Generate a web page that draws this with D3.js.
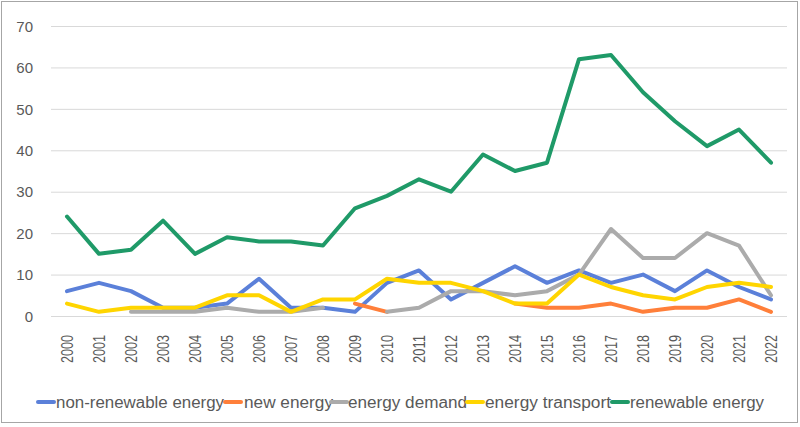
<!DOCTYPE html>
<html>
<head>
<meta charset="utf-8">
<script src="https://cdn.jsdelivr.net/npm/d3@7"></script>
<style>
  html, body { margin: 0; padding: 0; background: #fff; }
  svg { display: block; font-family: "Liberation Sans", Arial, sans-serif; }
</style>
</head>
<body>
<svg id="chart" width="800" height="427"></svg>
<script>
const years = ["2000","2001","2002","2003","2004","2005","2006","2007","2008","2009","2010","2011",
               "2012","2013","2014","2015","2016","2017","2018","2019","2020","2021","2022"];
const nonRenewable = [6,8,6,2,2,3,9,2,2,1,8,11,4,8,12,8,11,8,10,6,11,7,4];
const newEnergy    = [null,null,null,null,null,null,null,null,null,3,1,null,null,null,3,2,2,3,1,2,2,4,1];
const energyDemand = [null,null,1,1,1,2,1,1,2,null,1,2,6,6,5,6,10,21,14,14,20,17,5];
const energyTransport = [3,1,2,2,2,5,5,1,4,4,9,8,8,6,3,3,10,7,5,4,7,8,7];
const renewable    = [24,15,16,23,15,19,18,18,17,26,29,33,30,39,35,37,62,63,54,47,41,45,37];
const yTicks = [0,10,20,30,40,50,60,70];

const seriesNames = ["non-renewable energy","new energy","energy demand","energy transport","renewable energy"];
const seriesValues = [nonRenewable, newEnergy, energyDemand, energyTransport, renewable];
const seriesColors = ["#5b80d9","#ff7f3a","#ababab","#ffd500","#1f9a68"];

const svg = d3.select("#chart");

// outer frame
svg.append("rect").attr("x",1.5).attr("y",1.5).attr("width",796).attr("height",421)
  .attr("fill","#fff").attr("stroke","#a6a6a6").attr("stroke-width",1);

const plotLeft = 51, plotRight = 787, plotTop = 26, plotBottom = 316;

const x = d3.scaleBand().domain(years).range([plotLeft, plotRight]);
const y = d3.scaleLinear().domain([0,70]).range([plotBottom, plotTop]);

// gridlines
svg.append("g").selectAll("line").data(yTicks).join("line")
  .attr("x1", plotLeft).attr("x2", plotRight)
  .attr("y1", d => y(d) + 0.5).attr("y2", d => y(d) + 0.5)
  .attr("stroke","#d9d9d9").attr("stroke-width",1);

// y axis labels
const yAxis = d3.axisLeft(y).tickValues(yTicks).tickSize(0).tickPadding(0);
const gy = svg.append("g").attr("transform",`translate(33,0)`).call(yAxis);
gy.select(".domain").remove();
gy.selectAll("text").attr("fill","#595959").style("font-size","15px")
  .attr("dy","0.35em").attr("x",0);

// x axis labels (rotated)
const xAxis = d3.axisBottom(x).tickSize(0).tickPadding(0);
const gx = svg.append("g").call(xAxis);
gx.select(".domain").remove();
gx.selectAll(".tick").attr("transform", d => `translate(${x(d) + x.bandwidth()/2},335)`);
gx.selectAll("text")
  .attr("fill","#595959").style("font-size","16px")
  .attr("transform","rotate(-90)")
  .attr("x",0).attr("y",0).attr("dy","0.35em")
  .attr("text-anchor","end")
  .attr("textLength",28).attr("lengthAdjust","spacingAndGlyphs");

// lines
const line = d3.line()
  .defined(d => d.v !== null)
  .x(d => x(d.year) + x.bandwidth()/2)
  .y(d => y(d.v));

seriesValues.forEach((vals, i) => {
  const data = years.map((yr, j) => ({year: yr, v: vals[j]}));
  svg.append("path").datum(data)
    .attr("fill","none")
    .attr("stroke", seriesColors[i])
    .attr("stroke-width", 4)
    .attr("stroke-linejoin","round")
    .attr("stroke-linecap","round")
    .attr("d", line);
});

// legend
const legendItems = [
  {m0:38, t0:56, w:168},
  {m0:225, t0:244, w:89},
  {m0:331, t0:348, w:119},
  {m0:467, t0:485, w:126},
  {m0:612, t0:630, w:134}
];
const lg = svg.append("g");
legendItems.forEach((it, i) => {
  lg.append("line").attr("x1", it.m0).attr("x2", it.m0 + 16)
    .attr("y1", 402).attr("y2", 402)
    .attr("stroke", seriesColors[i]).attr("stroke-width", 4).attr("stroke-linecap","round");
  lg.append("text").attr("x", it.t0).attr("y", 402).attr("dy","0.35em")
    .attr("fill","#595959").style("font-size","16px")
    .attr("textLength", it.w).attr("lengthAdjust","spacingAndGlyphs")
    .text(seriesNames[i]);
});
</script>
</body>
</html>
